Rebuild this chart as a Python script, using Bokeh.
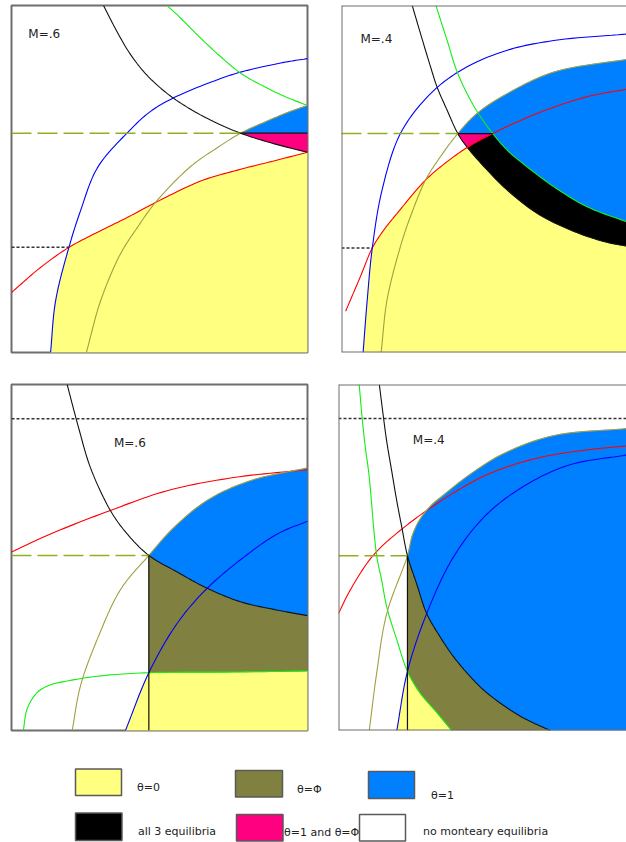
import numpy as np
from bokeh.plotting import figure
from bokeh.layouts import column, row
from bokeh.models import Range1d, Span, Label
from bokeh.core.properties import value
from bokeh.embed import file_html
from bokeh.resources import INLINE

FONT = "DejaVu Sans"

# Region colours
C_THETA0 = "#ffff80"
C_PHI = "#808040"
C_THETA1 = "#0080ff"
C_ALL3 = "#000000"
C_BOTH = "#ff0080"
C_NONE = "#ffffff"

# Curve colours
K_BLACK = "#111111"
K_RED = "#ff0000"
K_BLUE = "#0000ff"
K_GREEN = "#11ee11"
K_OLIVE = "#a0a040"
K_DASH = "#90b020"
K_DOT = "#333333"

# ---------------------------------------------------------------------------
# Top row, M=.6   (both axes on a 0-100 scale of the panel)
a6_label = "M=.6"
a6_black = [(31.1, 100), (35.0, 93.5), (39.5, 86.8), (44.6, 81.0), (49.7, 76.7), (54.7, 73.3),
            (61.5, 69.6), (68.2, 66.6), (77.4, 63.2), (88.6, 60.2), (100, 57.7)]
a6_green = [(52.6, 100), (57.1, 96.4), (63.9, 90.6), (70.6, 85.3), (77.4, 80.5), (84.1, 77.2),
            (92.0, 73.9), (100, 71.2)]
a6_blue = [(13.2, 0), (14.9, 14.9), (19.4, 30.3), (23.3, 40.8), (29.0, 53.2), (39.1, 63.3),
           (47.0, 69.5), (54.8, 73.4), (68.3, 78.2), (77.4, 80.8), (92.0, 83.6), (100, 84.7)]
a6_olive = [(25.3, 0), (30.1, 14.9), (36.8, 28.4), (42.5, 36.0), (48.6, 43.2), (60.5, 53.6), (69.5, 59.0),
            (77.4, 63.2), (86.4, 66.7), (93.1, 69.1), (100, 71.2)]
a6_red = [(0, 17.3), (9.8, 24.5), (19.4, 30.3), (30.1, 35.1), (39.1, 38.9), (48.6, 43.2), (63.9, 49.4),
          (77.4, 52.8), (88.6, 55.2), (100, 57.7)]
a6_node = (77.4, 63.2)
a6_low = (19.4, 30.3)

# Top row, M=.4
a4_label = "M=.4"
a4_black = [(23.9, 100), (26.7, 91.9), (30.1, 82.3), (32.3, 76.5), (35.7, 69.8), (39.3, 63.1), (42.5, 59.1),
            (49.2, 52.6), (56.0, 46.8), (66.1, 40.1), (77.4, 35.3), (88.6, 32.0), (98, 30.4)]
a4_green = [(31.9, 100), (35.7, 89.9), (39.1, 80.8), (43.6, 72.7), (47.0, 67.9), (51.1, 63.1), (56.0, 58.3),
            (60.5, 55.0), (71.7, 47.8), (83.0, 42.0), (98, 37.2)]
a4_red = [(1.4, 11.9), (6.4, 21.9), (10.4, 30.1), (14.3, 35.3), (18.8, 40.1), (28.4, 49.7), (35.7, 55.0),
          (42.5, 59.1), (51.1, 63.1), (66.1, 68.9), (83.0, 73.7), (98, 76.1)]
a4_blue = [(7.3, 0), (8.7, 15.2), (10.4, 30.1), (13.7, 46.8), (19.9, 63.1), (30.1, 74.6), (41.3, 81.8),
           (56.0, 87.1), (71.7, 89.9), (98, 91.9)]
a4_olive = [(13.4, 0), (15.4, 15.2), (19.9, 30.5), (23.3, 39.2), (28.4, 49.7), (33.4, 56.4), (39.3, 63.1),
            (45.8, 68.9), (56.0, 74.6), (71.7, 80.8), (98, 84.7)]
a4_node = (39.3, 63.1)
a4_cross_rb = (42.5, 59.1)   # red meets black
a4_cross_rg = (51.1, 63.1)   # red meets green
a4_low = (10.4, 30.1)

# Bottom row, M=.6
b6_label = "M=.6"
b6_black = [(18.8, 100), (22.7, 87.4), (26.7, 75.9), (33.4, 63.6), (39.1, 56.8), (46.4, 50.6), (56.0, 45.8),
            (66.1, 41.1), (77.4, 37.2), (88.6, 35.0), (100, 33.2)]
b6_red = [(0, 51.6), (13.2, 56.8), (33.4, 63.6), (52.6, 69.3), (75.0, 73.1), (100, 75.4)]
b6_olive = [(20.5, 0), (23.3, 12.9), (29.0, 26.4), (36.8, 40.7), (46.4, 50.6), (54.8, 58.6), (66.1, 66.5),
            (80.7, 72.2), (100, 75.9)]
b6_blue = [(38.5, 0), (46.4, 16.7), (56.0, 31.0), (66.1, 41.1), (78.5, 50.1), (89.8, 56.8), (100, 60.5)]
b6_green = [(4.0, 0), (5.3, 6.3), (8.7, 11.0), (13.2, 13.2), (18.8, 14.3), (30.1, 15.8), (46.4, 16.7),
            (75.0, 16.9), (100, 17.2)]
b6_node = (46.4, 50.6)
b6_floor = (46.4, 16.7)
b6_top = 90.1

# Bottom row, M=.4
b4_label = "M=.4"
b4_black = [(13.8, 100), (15.1, 91.1), (16.3, 83.5), (18.0, 74.9), (19.7, 66.3), (21.4, 58.7), (23.3, 50.5),
            (26.4, 42.4), (29.8, 33.8), (34.3, 27.1), (38.8, 21.4), (44.4, 15.7), (50.1, 10.9), (61.3, 4.2),
            (71.5, 0)]
b4_green = [(7.0, 100), (8.0, 90.2), (9.1, 81.6), (10.3, 73.9), (12.9, 50.5), (14.6, 43.4),
            (16.3, 35.7), (19.7, 26.2), (23.3, 17.1), (27.5, 10.9), (33.2, 5.2), (38.2, 0)]
b4_red = [(0, 33.8), (3.9, 40.5), (11.6, 50.5), (21.4, 58.2), (35.4, 66.8), (50.1, 73.9),
          (67.0, 78.7), (83.9, 81.1), (98, 82.3)]
b4_olive = [(10.4, 0), (12.9, 16.6), (16.3, 33.8), (23.3, 50.5), (25.0, 56.5), (27.5, 61.0), (31.0, 64.8),
            (35.4, 68.0), (44.4, 74.0), (55.7, 80.0), (72.6, 85.2), (98, 87.3)]
b4_blue = [(19.7, 0), (23.3, 17.1), (29.8, 33.8), (38.8, 50.1), (50.1, 62.5), (63.6, 71.1), (78.2, 76.8),
           (98, 79.7)]
b4_node = (23.3, 50.5)
b4_floor = (23.3, 17.1)
b4_top = 90.2

# Legend
legend_labels = ["θ=0", "θ=Φ", "θ=1", "all 3 equilibria", "θ=1 and θ=Φ", "no monteary equilibria"]
legend_colors = [C_THETA0, C_PHI, C_THETA1, C_ALL3, C_BOTH, C_NONE]


# ---------------------------------------------------------------------------
STEPS = 12


def smooth(pts, steps=STEPS):
    """Centripetal Catmull-Rom path through the points, used to draw each curve
    smoothly; every given point is kept as a vertex of the path."""
    P = np.asarray(pts, float)
    n = len(P)
    ext = np.vstack([2 * P[0] - P[1], P, 2 * P[-1] - P[-2]])
    out = []
    for i in range(n - 1):
        p0, p1, p2, p3 = ext[i], ext[i + 1], ext[i + 2], ext[i + 3]
        t0 = 0.0
        t1 = t0 + np.linalg.norm(p1 - p0) ** 0.5
        t2 = t1 + np.linalg.norm(p2 - p1) ** 0.5
        t3 = t2 + np.linalg.norm(p3 - p2) ** 0.5
        for t in np.linspace(t1, t2, steps, endpoint=False):
            a1 = (t1 - t) / (t1 - t0) * p0 + (t - t0) / (t1 - t0) * p1
            a2 = (t2 - t) / (t2 - t1) * p1 + (t - t1) / (t2 - t1) * p2
            a3 = (t3 - t) / (t3 - t2) * p2 + (t - t2) / (t3 - t2) * p3
            b1 = (t2 - t) / (t2 - t0) * a1 + (t - t0) / (t2 - t0) * a2
            b2 = (t3 - t) / (t3 - t1) * a2 + (t - t1) / (t3 - t1) * a3
            c = (t2 - t) / (t2 - t1) * b1 + (t - t1) / (t2 - t1) * b2
            out.append((float(c[0]), float(c[1])))
    out.append((float(P[-1][0]), float(P[-1][1])))
    return out


def prep(**curves):
    return {k: (v, smooth(v)) for k, v in curves.items()}


def seg(c, lo, hi):
    """Part of a smoothed curve between the given points at x=lo and x=hi."""
    pts, dense = c
    px = [p[0] for p in pts]
    i0 = next(i for i, x in enumerate(px) if x >= lo - 1e-9)
    i1 = max(i for i, x in enumerate(px) if x <= hi + 1e-9)
    return dense[i0 * STEPS: i1 * STEPS + 1]


def rev(pts):
    return list(reversed(pts))


def xs(pts):
    return [p[0] for p in pts]


def ys(pts):
    return [p[1] for p in pts]


def panel(width, height, left, right, top, bottom, xmax, open_right=False):
    p = figure(width=width, height=height, x_range=Range1d(0, xmax), y_range=Range1d(0, 100),
               toolbar_location=None, output_backend="svg", title=None,
               x_axis_location=None, y_axis_location=None,
               min_border_left=left, min_border_right=right,
               min_border_top=top, min_border_bottom=bottom)
    p.xgrid.visible = False
    p.ygrid.visible = False
    p.background_fill_color = "white"
    p.border_fill_color = "white"
    if open_right:
        p.outline_line_color = None
        for loc, dim in ((0, "height"), (0, "width"), (100, "width")):
            p.add_layout(Span(location=loc, dimension=dim, line_color="#6e6e6e", line_width=2))
    else:
        p.outline_line_color = "#6e6e6e"
        p.outline_line_width = 2
    return p


def region(p, pts, color):
    p.patch(xs(pts), ys(pts), fill_color=color, line_color=color, line_width=0.5)


def curve(p, c, color):
    dense = c[1]
    p.line(xs(dense), ys(dense), line_color=color, line_width=1.1)


def hline(p, x0, x1, y, color, dash, width=1.5):
    p.line([x0, x1], [y, y], line_color=color, line_dash=dash, line_width=width)


def label(p, text, x, y):
    p.add_layout(Label(x=x, y=y, text=text, text_font=FONT, text_font_size="12px",
                       text_color="#222222", text_baseline="top"))


# ---- top left -------------------------------------------------------------
A6 = prep(black=a6_black, green=a6_green, blue=a6_blue, olive=a6_olive, red=a6_red)
p1 = panel(326, 375, 11, 19, 4, 23, 100)
nx, ny = a6_node
region(p1, seg(A6["blue"], 0, a6_low[0]) + seg(A6["red"], a6_low[0], 100) + [(100, 0)], C_THETA0)
region(p1, seg(A6["olive"], nx, 100) + [(100, ny)], C_THETA1)
region(p1, [(nx, ny), (100, ny)] + rev(seg(A6["black"], nx, 100)), C_BOTH)
for k, c in (("red", K_RED), ("blue", K_BLUE), ("green", K_GREEN), ("olive", K_OLIVE), ("black", K_BLACK)):
    curve(p1, A6[k], c)
hline(p1, 0, nx, ny, K_DASH, "20 6")
hline(p1, nx, 100, ny, K_BLACK, "solid", 1.2)
hline(p1, 0, a6_low[0], a6_low[1], K_DOT, "3 2")
label(p1, a6_label, 5.7, 93.8)

# ---- top right ------------------------------------------------------------
A4 = prep(black=a4_black, green=a4_green, blue=a4_blue, olive=a4_olive, red=a4_red)
XM2 = 96.3
p2 = panel(300, 375, 15, 0, 5, 22, XM2, open_right=True)
nx, ny = a4_node
rbx = a4_cross_rb[0]
rgx = a4_cross_rg[0]
region(p2, seg(A4["blue"], 0, a4_low[0]) + seg(A4["red"], a4_low[0], rbx) + seg(A4["black"], rbx, 98)
       + [(98, 0)], C_THETA0)
region(p2, seg(A4["red"], rbx, rgx) + seg(A4["green"], rgx, 98) + rev(seg(A4["black"], rbx, 98)), C_ALL3)
region(p2, [(nx, ny), (rgx, ny)] + rev(seg(A4["red"], rbx, rgx)) + rev(seg(A4["black"], nx, rbx)), C_BOTH)
region(p2, seg(A4["olive"], nx, 98) + rev(seg(A4["green"], rgx, 98)) + [(nx, ny)], C_THETA1)
for k, c in (("black", K_BLACK), ("red", K_RED), ("blue", K_BLUE), ("green", K_GREEN), ("olive", K_OLIVE)):
    curve(p2, A4[k], c)
hline(p2, 0, nx, ny, K_DASH, "20 6")
hline(p2, nx, rgx, ny, K_BLACK, "solid", 1.2)
hline(p2, 0, a4_low[0], a4_low[1], K_DOT, "3 2")
label(p2, a4_label, 6.4, 92.5)

# ---- bottom left ----------------------------------------------------------
B6 = prep(black=b6_black, green=b6_green, blue=b6_blue, olive=b6_olive, red=b6_red)
p3 = panel(326, 375, 11, 19, 6, 20, 100)
nx, ny = b6_node
fx, fy = b6_floor
region(p3, seg(B6["blue"], 0, fx) + seg(B6["green"], fx, 100) + [(100, 0)], C_THETA0)
region(p3, [(fx, fy)] + seg(B6["black"], nx, 100) + rev(seg(B6["green"], fx, 100)), C_PHI)
region(p3, seg(B6["olive"], nx, 100) + rev(seg(B6["black"], nx, 100)), C_THETA1)
for k, c in (("red", K_RED), ("green", K_GREEN), ("blue", K_BLUE), ("olive", K_OLIVE), ("black", K_BLACK)):
    curve(p3, B6[k], c)
hline(p3, 0, nx, ny, K_DASH, "20 6")
p3.line([nx, nx], [0, ny], line_color=K_BLACK, line_width=1.2)
hline(p3, 0, 100, b6_top, K_DOT, "3 2")
label(p3, b6_label, 34.6, 85.2)

# ---- bottom right ---------------------------------------------------------
B4 = prep(black=b4_black, green=b4_green, blue=b4_blue, olive=b4_olive, red=b4_red)
XM4 = 97.3
p4 = panel(300, 375, 12, 0, 9, 17, XM4, open_right=True)
nx, ny = b4_node
fx, fy = b4_floor
gx0 = b4_green[-1][0]
kx0 = b4_black[-1][0]
region(p4, seg(B4["blue"], 0, fx) + seg(B4["green"], fx, gx0), C_THETA0)
region(p4, [(fx, fy)] + seg(B4["black"], nx, kx0) + rev(seg(B4["green"], fx, gx0)), C_PHI)
region(p4, seg(B4["olive"], nx, 98) + [(98, 0)] + rev(seg(B4["black"], nx, kx0)), C_THETA1)
for k, c in (("red", K_RED), ("green", K_GREEN), ("blue", K_BLUE), ("olive", K_OLIVE), ("black", K_BLACK)):
    curve(p4, B4[k], c)
hline(p4, 0, nx, ny, K_DASH, "20 6")
p4.line([nx, nx], [0, ny], line_color=K_BLACK, line_width=1.2)
hline(p4, 0, XM4, b4_top, K_DOT, "3 2")
label(p4, b4_label, 25.1, 86.1)

# ---- legend strip -----------------------------------------------------------
leg = figure(width=626, height=92, x_range=Range1d(0, 626), y_range=Range1d(92, 0),
             toolbar_location=None, output_backend="svg", title=None,
             x_axis_location=None, y_axis_location=None, min_border=0)
leg.xgrid.visible = False
leg.ygrid.visible = False
leg.outline_line_color = None

box_left = [75, 235, 368, 75, 236, 359]
box_right = [121, 282, 414, 121.5, 282.5, 405]
box_top = [18.5, 20, 21, 62.5, 64, 64]
box_bottom = [45, 46.5, 48, 90, 90.5, 90.5]
text_x = [136.5, 296.5, 430.5, 137.5, 283.5, 422.5]
text_y = [36.5, 39, 45, 81, 81.5, 81]

leg.quad(left=box_left, right=box_right, top=box_top, bottom=box_bottom,
         fill_color=legend_colors, line_color="#5a5a5a", line_width=1.5)
leg.text(x=text_x, y=text_y, text=legend_labels, text_font=value(FONT), text_font_size="11px",
         text_color="#222222", text_baseline="alphabetic")

layout = column(row(p1, p2), row(p3, p4), leg)

with open("out.html", "w") as f:
    f.write(file_html(layout, INLINE))
